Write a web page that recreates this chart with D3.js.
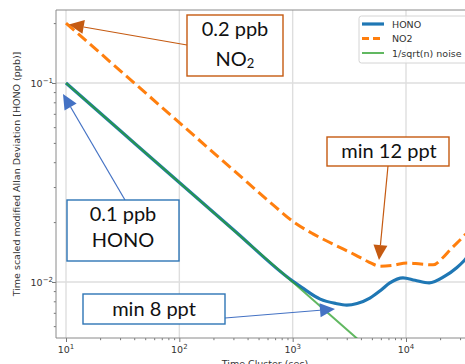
<!DOCTYPE html>
<html>
<head>
<meta charset="utf-8">
<script src="https://cdn.jsdelivr.net/npm/d3@7"></script>
<style>
  body { margin: 0; background: #fff; }
  svg { display: block; font-family: "DejaVu Sans", sans-serif; }
  .note { font-family: Lato, "Open Sans", sans-serif; fill: #111; }
</style>
</head>
<body>
<div id="chart"></div>
<script>
// time cluster (sec) and deviations
var honoTime = [10, 30, 100, 300, 1000, 1200, 1750, 2400, 3000, 3700, 4800, 6000, 7200, 9400, 12000, 16000, 22000, 28000, 33000, 40000];
var honoDev  = [0.1, 0.0577, 0.0316, 0.0183, 0.0101, 0.0094, 0.0082, 0.0078, 0.00766, 0.0078, 0.0083, 0.0091, 0.0099, 0.0105, 0.0102, 0.0099, 0.0107, 0.0118, 0.0129, 0.0148];
var no2Time  = [10, 30, 100, 300, 700, 1000, 1500, 2275, 3556, 4700, 5900, 7500, 10230, 13500, 17350, 21000, 24500, 33000, 40000];
var no2Dev   = [0.2, 0.1155, 0.0632, 0.0365, 0.0239, 0.0202, 0.0175, 0.0155, 0.0137, 0.0126, 0.0120, 0.0121, 0.01246, 0.0123, 0.0122, 0.0132, 0.0145, 0.0172, 0.0195];
var noiseTime = [10, 100, 1000, 4000];
var noiseDev  = [0.1, 0.0316, 0.01, 0.005];
var xTicks = [10, 100, 1000, 10000];
var xTickExp = ["1", "2", "3", "4"];
var yTicks = [0.1, 0.01];
var yTickExp = ["\u22121", "\u22122"];
var seriesNames = ["HONO", "NO2", "1/sqrt(n) noise"];

(function() {
var width = 465, height = 364;
var pl = 56, pt = 10, pr = 476, pb = 338;

var svg = d3.select('#chart').append('svg')
    .attr('width', width)
    .attr('height', height);

var x = d3.scaleLog().domain([10, 10000]).range([66, 406]);
var y = d3.scaleLog().domain([0.1, 0.01]).range([83, 282]);

svg.append('clipPath').attr('id', 'plotclip')
    .append('rect').attr('x', pl).attr('y', pt)
    .attr('width', pr - pl).attr('height', pb - pt);

// grid
var grid = svg.append('g').attr('stroke', '#dedede').attr('stroke-width', 1.4);
xTicks.forEach(function(t) {
    grid.append('line').attr('x1', x(t)).attr('x2', x(t)).attr('y1', pt).attr('y2', pb);
});
yTicks.forEach(function(v) {
    grid.append('line').attr('x1', pl).attr('x2', pr).attr('y1', y(v)).attr('y2', y(v));
});

// axes
var xAxis = d3.axisBottom(x).tickValues(d3.range(1, 5).flatMap(function(e) {
        return d3.range(1, 10).map(function(m) { return m * Math.pow(10, e); });
    }).filter(function(t) { return x(t) > pl && x(t) < pr; }))
    .tickFormat('').tickSizeOuter(0);
var gx = svg.append('g').attr('transform', 'translate(0,' + pb + ')').call(xAxis);
gx.selectAll('.tick line').attr('y2', function(d) { return xTicks.indexOf(d) >= 0 ? 4 : 2.2; });

var yMinor = [];
[-3, -2, -1].forEach(function(e) {
    d3.range(1, 10).forEach(function(m) { yMinor.push(m * Math.pow(10, e)); });
});
var yAxis = d3.axisLeft(y).tickValues(yMinor.filter(function(v) { return y(v) > pt && y(v) < pb; }))
    .tickFormat('').tickSizeOuter(0);
var gy = svg.append('g').attr('transform', 'translate(' + pl + ',0)').call(yAxis);
gy.selectAll('.tick line').attr('x2', function(d) {
    return yTicks.some(function(v) { return Math.abs(v - d) < 1e-9; }) ? -4 : -2.2;
});
svg.selectAll('.domain').remove();
svg.selectAll('.tick line').attr('stroke', '#777');

// spines
var spine = svg.append('g').attr('stroke', '#8a8a8a').attr('stroke-width', 1).attr('fill', 'none');
spine.append('line').attr('x1', pl).attr('x2', pl).attr('y1', pt).attr('y2', pb);
spine.append('line').attr('x1', pl).attr('x2', pr).attr('y1', pb).attr('y2', pb);
spine.append('line').attr('x1', pl).attr('x2', pr).attr('y1', pt).attr('y2', pt);

// tick labels
xTicks.forEach(function(t, i) {
    var tx = svg.append('text').attr('x', x(t)).attr('y', 353)
        .attr('text-anchor', 'middle').attr('font-size', 9.5).attr('fill', '#333');
    tx.append('tspan').text('10');
    tx.append('tspan').attr('dy', -4).attr('font-size', 7).text(xTickExp[i]);
});
yTicks.forEach(function(v, i) {
    var ty = svg.append('text').attr('x', 53).attr('y', y(v) + 3.5)
        .attr('text-anchor', 'end').attr('font-size', 9.5).attr('fill', '#333');
    ty.append('tspan').text('10');
    ty.append('tspan').attr('dy', -4).attr('font-size', 7).text(yTickExp[i]);
});

svg.append('text').attr('transform', 'translate(20,' + ((pt + pb) / 2) + ') rotate(-90)')
    .attr('text-anchor', 'middle').attr('font-size', 9.5).attr('fill', '#333')
    .text('Time scaled modified Allan Deviation [HONO (ppb)]');
svg.append('text').attr('x', 265).attr('y', 367)
    .attr('text-anchor', 'middle').attr('font-size', 9.5).attr('fill', '#333')
    .text('Time Cluster (sec)');

// series
var line = d3.line()
    .x(function(d) { return x(d[0]); })
    .y(function(d) { return y(d[1]); })
    .curve(d3.curveMonotoneX);
var plot = svg.append('g').attr('clip-path', 'url(#plotclip)');
plot.append('path').datum(d3.zip(no2Time, no2Dev))
    .attr('d', line).attr('fill', 'none').attr('stroke', '#ff7f0e')
    .attr('stroke-width', 3).attr('stroke-dasharray', '11,5');
plot.append('path').datum(d3.zip(honoTime, honoDev))
    .attr('d', line).attr('fill', 'none').attr('stroke', '#1f77b4')
    .attr('stroke-width', 3.2);
plot.append('path').datum(d3.zip(noiseTime, noiseDev))
    .attr('d', line).attr('fill', 'none').attr('stroke', '#2ca02c')
    .attr('stroke-opacity', 0.75).attr('stroke-width', 2);

// legend
var legend = svg.append('g').attr('transform', 'translate(359,16)');
legend.append('rect').attr('width', 120).attr('height', 47).attr('rx', 2.5)
    .attr('fill', '#fff').attr('fill-opacity', 0.8).attr('stroke', '#d4d4d4');
var legendStyle = [
    { color: '#1f77b4', dash: null, w: 3.2, op: 1 },
    { color: '#ff7f0e', dash: '7,4', w: 3, op: 1 },
    { color: '#2ca02c', dash: null, w: 2, op: 0.75 }
];
seriesNames.forEach(function(name, i) {
    var row = legend.append('g').attr('transform', 'translate(0,' + (8 + i * 14.5) + ')');
    row.append('line').attr('x1', 3).attr('x2', 25).attr('stroke', legendStyle[i].color)
        .attr('stroke-width', legendStyle[i].w).attr('stroke-opacity', legendStyle[i].op)
        .attr('stroke-dasharray', legendStyle[i].dash);
    row.append('text').attr('x', 33).attr('y', 3.5).attr('font-size', 9.5).attr('fill', '#333').text(name);
});

// annotation callouts
var orange = '#c55a11', blue = '#4472c4';
function arrow(x1, y1, x2, y2, color) {
    var a = Math.atan2(y2 - y1, x2 - x1), len = 15, half = 7;
    var bx = x2 - len * Math.cos(a), by = y2 - len * Math.sin(a);
    svg.append('line').attr('x1', x1).attr('y1', y1).attr('x2', bx).attr('y2', by)
        .attr('stroke', color).attr('stroke-width', 1.2);
    var px = -Math.sin(a) * half, py = Math.cos(a) * half;
    svg.append('path')
        .attr('d', 'M' + x2 + ',' + y2 + 'L' + (bx + px) + ',' + (by + py) + 'L' + (bx - px) + ',' + (by - py) + 'Z')
        .attr('fill', color);
}
function box(x0, y0, w, h, color) {
    svg.append('rect').attr('x', x0).attr('y', y0).attr('width', w).attr('height', h)
        .attr('fill', '#fff').attr('stroke', color).attr('stroke-width', 1.4);
}

arrow(187, 45, x(10.6), y(0.197), orange);
box(187, 15, 96, 61, orange);
svg.append('text').attr('class', 'note').attr('x', 235).attr('y', 36)
    .attr('text-anchor', 'middle').attr('font-size', 20).text('0.2 ppb');
var no2 = svg.append('text').attr('class', 'note').attr('x', 235).attr('y', 66)
    .attr('text-anchor', 'middle').attr('font-size', 20);
no2.append('tspan').text('NO');
no2.append('tspan').attr('font-size', 13).attr('dy', 2).text('2');

arrow(125, 200, 63, 94, blue);
box(67, 200, 112, 61, '#2e75b6');
svg.append('text').attr('class', 'note').attr('x', 123).attr('y', 221)
    .attr('text-anchor', 'middle').attr('font-size', 20).text('0.1 ppb');
svg.append('text').attr('class', 'note').attr('x', 123).attr('y', 247)
    .attr('text-anchor', 'middle').attr('font-size', 20).text('HONO');

arrow(388, 166, 379, 260, orange);
box(327, 137, 122, 29, orange);
svg.append('text').attr('class', 'note').attr('x', 389).attr('y', 158)
    .attr('text-anchor', 'middle').attr('font-size', 20).text('min 12 ppt');

arrow(225, 318, 335, 309, blue);
box(83, 294, 142, 30, '#2e75b6');
svg.append('text').attr('class', 'note').attr('x', 154).attr('y', 316)
    .attr('text-anchor', 'middle').attr('font-size', 20).text('min 8 ppt');
})();
</script>
</body>
</html>
